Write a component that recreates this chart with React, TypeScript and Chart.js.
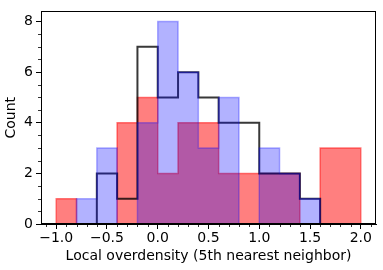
import React, { useEffect, useRef } from "react";
import { Chart, registerables } from "chart.js";

Chart.register(...registerables);

const binEdges = [-1.0, -0.8, -0.6, -0.4, -0.2, 0.0, 0.2, 0.4, 0.6, 0.8, 1.0, 1.2, 1.4, 1.6, 1.8, 2.0];
const redCounts = [1, 0, 0, 4, 5, 2, 4, 4, 2, 2, 2, 2, 0, 3, 3];
const blueCounts = [0, 1, 3, 0, 4, 8, 6, 3, 5, 0, 3, 2, 1, 0, 0];
const blackCounts = [0, 0, 2, 1, 7, 5, 6, 5, 4, 4, 2, 2, 1, 0, 0];
const xTicks = [-1.0, -0.5, 0.0, 0.5, 1.0, 1.5, 2.0];
const yTicks = [0, 2, 4, 6, 8];
const xMinorStep = 0.1;
const yMinorStep = 0.5;
const xLabel = "Local overdensity (5th nearest neighbor)";
const yLabel = "Count";

const FONT = "'DejaVu Sans', sans-serif";
const FS = 14;

// Step outline points: value of each point applies to the interval before it.
function stepData(counts: number[]) {
  const pts: { x: number; y: number }[] = [{ x: binEdges[0], y: 0 }];
  counts.forEach((c, i) => {
    pts.push({ x: binEdges[i], y: c });
    pts.push({ x: binEdges[i + 1], y: c });
  });
  pts.push({ x: binEdges[binEdges.length - 1], y: 0 });
  return pts;
}

const fmt = (v: number) => v.toFixed(1).replace("-", "\u2212");

const framePlugin = {
  id: "frameAndMinor",
  afterDraw(chart: any) {
    const { ctx, chartArea } = chart;
    const xs = chart.scales.x;
    const ys = chart.scales.y;
    ctx.save();
    ctx.strokeStyle = "#000";
    ctx.lineWidth = 1;
    ctx.strokeRect(
      Math.round(chartArea.left) + 0.5,
      Math.round(chartArea.top) + 0.5,
      Math.round(chartArea.right - chartArea.left) - 1,
      Math.round(chartArea.bottom - chartArea.top) - 1
    );
    ctx.lineWidth = 0.8;
    ctx.beginPath();
    const bottom = Math.round(chartArea.bottom);
    for (let k = Math.ceil(xs.min / xMinorStep); k * xMinorStep <= xs.max; k++) {
      const v = k * xMinorStep;
      if (Math.abs(v / 0.5 - Math.round(v / 0.5)) < 1e-6) continue;
      const px = Math.round(xs.getPixelForValue(v)) + 0.5;
      ctx.moveTo(px, bottom);
      ctx.lineTo(px, bottom + 3);
    }
    const left = Math.round(chartArea.left);
    for (let k = Math.ceil(ys.min / yMinorStep); k * yMinorStep <= ys.max; k++) {
      const v = k * yMinorStep;
      if (Math.abs(v / 2 - Math.round(v / 2)) < 1e-6) continue;
      const py = Math.round(ys.getPixelForValue(v)) + 0.5;
      ctx.moveTo(left, py);
      ctx.lineTo(left - 3, py);
    }
    ctx.stroke();
    ctx.restore();
  },
};

export default function App() {
  const ref = useRef<HTMLCanvasElement | null>(null);
  useEffect(() => {
    if (!ref.current) return;
    const chart = new Chart(ref.current, {
      type: "line",
      data: {
        datasets: [
          {
            label: "blue",
            data: stepData(blueCounts) as any,
            backgroundColor: "rgba(0,0,255,0.3)",
            borderColor: "rgba(0,0,255,0.3)",
            borderWidth: 1.5,
            pointRadius: 0,
            fill: "origin",
            tension: 0,
            order: 0,
          } as any,
          {
            label: "black",
            data: stepData(blackCounts) as any,
            borderColor: "rgba(0,0,0,0.78)",
            borderWidth: 2,
            pointRadius: 0,
            fill: false,
            tension: 0,
            order: 1,
          } as any,
          {
            label: "red",
            data: stepData(redCounts) as any,
            backgroundColor: "rgba(255,0,0,0.5)",
            borderColor: "rgba(255,0,0,0.5)",
            borderWidth: 1.5,
            pointRadius: 0,
            fill: "origin",
            tension: 0,
            order: 2,
          } as any,
        ],
      },
      options: {
        responsive: false,
        animation: false,
        layout: { padding: { left: 0, right: 7, top: 6, bottom: 0 } },
        plugins: {
          legend: { display: false },
          tooltip: { enabled: false },
        },
        scales: {
          x: {
            type: "linear",
            min: -1.15,
            max: 2.15,
            offset: false,
            afterBuildTicks: (s: any) => {
              s.ticks = xTicks.map((v) => ({ value: v }));
            },
            afterFit: (s: any) => {
              s.height = 46;
            },
            ticks: {
              callback: (v: any) => fmt(Number(v)),
              font: { family: FONT, size: FS },
              color: "#000",
              padding: 1,
              maxRotation: 0,
              autoSkip: false,
            },
            grid: {
              offset: false,
              drawOnChartArea: false,
              drawTicks: true,
              tickLength: 5,
              tickColor: "#000",
              tickWidth: 1,
            },
            border: { display: true, color: "#000", width: 1 },
            title: {
              display: true,
              text: xLabel,
              font: { family: FONT, size: FS },
              color: "#000",
              padding: { top: 0, bottom: 5 },
            },
          },
          y: {
            type: "linear",
            min: 0,
            max: 8.4,
            afterBuildTicks: (s: any) => {
              s.ticks = yTicks.map((v) => ({ value: v }));
            },
            afterFit: (s: any) => {
              s.width = 41;
            },
            ticks: {
              callback: (v: any) => String(v),
              font: { family: FONT, size: FS },
              color: "#000",
              padding: 3,
            },
            grid: {
              drawOnChartArea: false,
              drawTicks: true,
              tickLength: 5,
              tickColor: "#000",
              tickWidth: 1,
            },
            border: { display: true, color: "#000", width: 1 },
            title: {
              display: true,
              text: yLabel,
              font: { family: FONT, size: FS },
              color: "#000",
              padding: { top: 3, bottom: 0 },
            },
          },
        },
      },
      plugins: [framePlugin],
    });
    return () => chart.destroy();
  }, []);
  return (
    <div style={{ position: "fixed", left: 0, top: 0, width: 383, height: 270, background: "#fff" }}>
      <canvas ref={ref} width={383} height={270} style={{ display: "block" }} />
    </div>
  );
}
